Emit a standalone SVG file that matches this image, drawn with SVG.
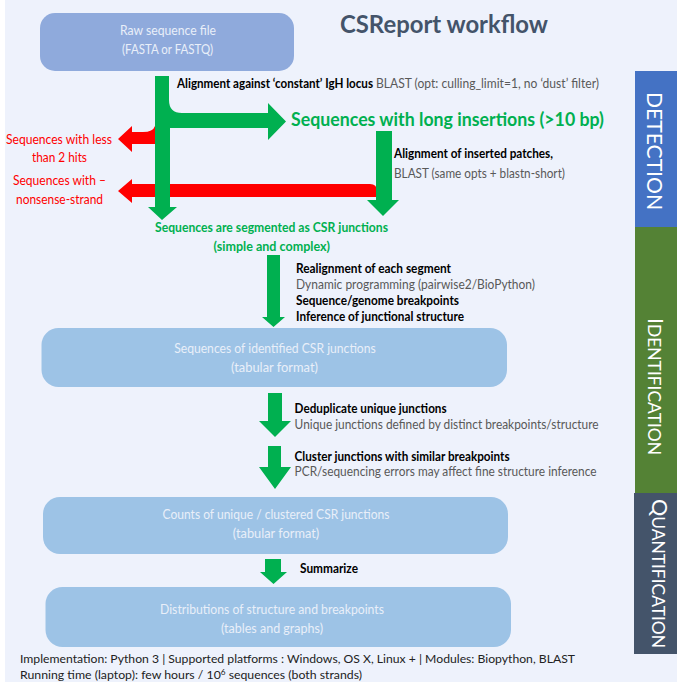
<svg xmlns="http://www.w3.org/2000/svg" width="677" height="682" viewBox="0 0 677 682">
<style>
text{font-family:Lato,"Liberation Sans",Arial,sans-serif;}
.b{font-weight:bold;font-size:12.5px;fill:#000;}
.g{font-size:12.5px;fill:#595959;}
.r{font-size:12.5px;fill:#FF0000;}
.gb{font-weight:bold;font-size:12.5px;fill:#00B050;}
.bx{font-size:12.5px;fill:#E9EFF9;}
.ft{font-size:12px;fill:#222;}
.side{fill:#FFFFFF;}
.box{fill:#9DC3E6;}
.ga{fill:#00B050;}
.ra{fill:#FF0000;}
</style>
<rect x="0" y="0" width="677" height="682" fill="#FFFFFF"/>
<rect x="5" y="0" width="672" height="682" fill="#EEF2FC"/>

<g id="title">
<text x="340" y="33" font-size="25" font-weight="bold" fill="#44546A" textLength="208" lengthAdjust="spacingAndGlyphs">CSReport workflow</text>
</g>

<g id="bar-detection">
<rect x="635" y="71" width="42" height="156" fill="#4472C4"/>
<text class="side" transform="translate(647,151) rotate(90)" text-anchor="middle" font-size="22" textLength="118" lengthAdjust="spacingAndGlyphs">DETECTION</text>
</g>
<g id="bar-identification">
<rect x="635" y="227" width="42" height="266" fill="#548235"/>
<text class="side" transform="translate(648,386.5) rotate(90)" text-anchor="middle" font-size="17" textLength="137" lengthAdjust="spacingAndGlyphs"><tspan font-size="21">I</tspan>DENTIFICATION</text>
</g>
<g id="bar-quantification">
<rect x="634" y="493" width="43" height="161" fill="#44546A"/>
<text class="side" transform="translate(652,573.5) rotate(90)" text-anchor="middle" font-size="17" textLength="149" lengthAdjust="spacingAndGlyphs"><tspan font-size="21">Q</tspan>UANTIFICATION</text>
</g>

<g id="connectors">
<path class="ra" d="M155,126 Q153,132 143,132 H132 V126 L118,139 L132,152 V144 H156 Z"/>
<path class="ra" d="M132,184 H370 Q377,184 377,191 V197 H132 V203 L118,191 L132,179 Z"/>
<path class="ga" d="M155,76 H169 V100 Q169,113 182,113 H268 V103 L286,121.5 L268,140 V128 H170 V207 H177 L162,220 L148,207 H155 Z"/>
<path class="ga" d="M376,131 H392 V200 H399 L383,216 L367,200 H376 Z"/>
<path class="ga" d="M267,255 H280 V317 H285 L273.5,327 L262,317 H267 Z"/>
<path class="ga" d="M268,393 H282 V421 H291 L275,437 L259,421 H268 Z"/>
<path class="ga" d="M268,446 H281 V467 H291 L275,489 L259,467 H268 Z"/>
<path class="ga" d="M265,559 H281 V572 H287 L273.5,584 L260,572 H265 Z"/>
</g>

<g id="node-raw">
<rect x="40" y="13" width="254" height="58" rx="15" fill="#8FAADC"/>
<text class="bx" x="168" y="34.5" text-anchor="middle" textLength="96" lengthAdjust="spacingAndGlyphs">Raw sequence file</text>
<text class="bx" x="167.5" y="53.5" text-anchor="middle" textLength="91" lengthAdjust="spacingAndGlyphs">(FASTA or FASTQ)</text>
</g>

<g id="node-identified">
<rect class="box" x="41.5" y="328" width="465.5" height="59" rx="17"/>
<text class="bx" x="275" y="352.5" text-anchor="middle" textLength="201.6" lengthAdjust="spacingAndGlyphs">Sequences of identified CSR junctions</text>
<text class="bx" x="274.5" y="371.5" text-anchor="middle" textLength="87" lengthAdjust="spacingAndGlyphs">(tabular format)</text>
</g>

<g id="node-counts">
<rect class="box" x="43" y="497" width="465" height="57" rx="17"/>
<text class="bx" x="276" y="518.5" text-anchor="middle" textLength="227" lengthAdjust="spacingAndGlyphs">Counts of unique / clustered CSR junctions</text>
<text class="bx" x="276" y="537.5" text-anchor="middle" textLength="86.5" lengthAdjust="spacingAndGlyphs">(tabular format)</text>
</g>

<g id="node-distributions">
<rect class="box" x="45.5" y="587" width="465.5" height="60" rx="17"/>
<text class="bx" x="272" y="613.5" text-anchor="middle" textLength="224" lengthAdjust="spacingAndGlyphs">Distributions of structure and breakpoints</text>
<text class="bx" x="272" y="632.5" text-anchor="middle" textLength="102" lengthAdjust="spacingAndGlyphs">(tables and graphs)</text>
</g>

<g id="node-long-insertions">
<text x="291" y="125.5" font-size="18" font-weight="bold" fill="#00B050" textLength="313" lengthAdjust="spacingAndGlyphs">Sequences with long insertions (&gt;10 bp)</text>
</g>

<g id="node-less-hits">
<text class="r" x="59" y="143.5" text-anchor="middle" textLength="106" lengthAdjust="spacingAndGlyphs">Sequences with less</text>
<text class="r" x="59.5" y="161.5" text-anchor="middle" textLength="55" lengthAdjust="spacingAndGlyphs">than 2 hits</text>
</g>

<g id="node-nonsense">
<text class="r" x="59.5" y="184.5" text-anchor="middle" textLength="93" lengthAdjust="spacingAndGlyphs">Sequences with –</text>
<text class="r" x="59.5" y="203.5" text-anchor="middle" textLength="87" lengthAdjust="spacingAndGlyphs">nonsense-strand</text>
</g>

<g id="node-segmented">
<text class="gb" x="155" y="231.5" textLength="233" lengthAdjust="spacingAndGlyphs">Sequences are segmented as CSR junctions</text>
<text class="gb" x="213.5" y="250.5" textLength="116.5" lengthAdjust="spacingAndGlyphs">(simple and complex)</text>
</g>

<g id="labels">
<text class="b" x="177" y="88" textLength="196" lengthAdjust="spacingAndGlyphs">Alignment against ‘constant’ IgH locus</text>
<text class="g" x="376" y="88" textLength="223" lengthAdjust="spacingAndGlyphs">BLAST (opt: culling_limit=1, no ‘dust’ filter)</text>
<text class="b" x="394" y="157.5" textLength="159" lengthAdjust="spacingAndGlyphs">Alignment of inserted patches,</text>
<text class="g" x="394" y="177.5" textLength="171" lengthAdjust="spacingAndGlyphs">BLAST (same opts + blastn-short)</text>
<text class="b" x="296" y="272.5" textLength="155" lengthAdjust="spacingAndGlyphs">Realignment of each segment</text>
<text class="g" x="296" y="288.5" textLength="239" lengthAdjust="spacingAndGlyphs">Dynamic programming (pairwise2/BioPython)</text>
<text class="b" x="296" y="304.5" textLength="163" lengthAdjust="spacingAndGlyphs">Sequence/genome breakpoints</text>
<text class="b" x="296" y="320.5" textLength="168" lengthAdjust="spacingAndGlyphs">Inference of junctional structure</text>
<text class="b" x="294.6" y="412.5" textLength="152" lengthAdjust="spacingAndGlyphs">Deduplicate unique junctions</text>
<text class="g" x="294.6" y="428.5" textLength="304" lengthAdjust="spacingAndGlyphs">Unique junctions defined by distinct breakpoints/structure</text>
<text class="b" x="294.6" y="460.5" textLength="215" lengthAdjust="spacingAndGlyphs">Cluster junctions with similar breakpoints</text>
<text class="g" x="294.6" y="475.5" textLength="302" lengthAdjust="spacingAndGlyphs">PCR/sequencing errors may affect fine structure inference</text>
<text class="b" x="300" y="572.5" textLength="58" lengthAdjust="spacingAndGlyphs">Summarize</text>
</g>

<g id="footer">
<text class="ft" x="20" y="663" textLength="555" lengthAdjust="spacingAndGlyphs">Implementation: Python 3 | Supported platforms : Windows, OS X, Linux + | Modules: Biopython, BLAST</text>
<text class="ft" x="20" y="679" textLength="342" lengthAdjust="spacingAndGlyphs">Running time (laptop): few hours / 10<tspan dy="-4" font-size="8">6</tspan><tspan dy="4"> sequences (both strands)</tspan></text>
</g>
</svg>
